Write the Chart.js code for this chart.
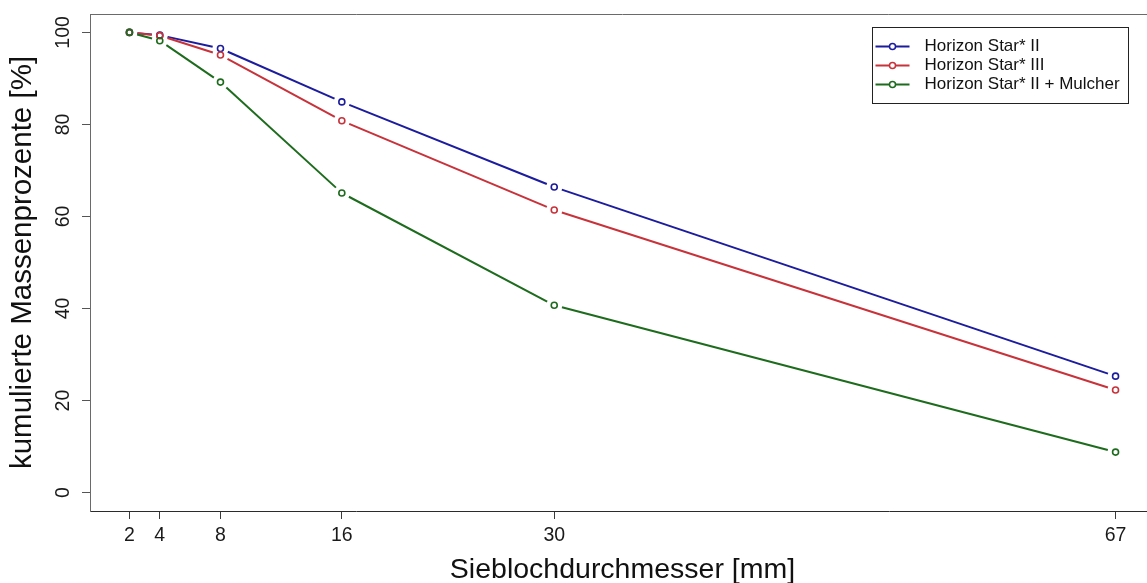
<!DOCTYPE html>
<html>
<head>
<meta charset="utf-8">
<script src="https://cdn.jsdelivr.net/npm/chart.js@4/dist/chart.umd.min.js"></script>
<style>
  html, body { margin: 0; padding: 0; background: #ffffff; overflow: hidden; }
  #wrap { position: relative; width: 1160px; height: 583px; }
</style>
</head>
<body>
<div id="wrap"><canvas id="chart"></canvas></div>
<script>
// Sieve hole diameters [mm] and cumulative mass percentages per machine setup
const sieveSizes = [2, 4, 8, 16, 30, 67];
const seriesNames = ['Horizon Star* II', 'Horizon Star* III', 'Horizon Star* II + Mulcher'];
const starII = [100, 99.4, 96.5, 84.9, 66.4, 25.3];
const starIII = [100, 99.3, 95.1, 80.8, 61.4, 22.3];
const starIIMulcher = [100, 98.2, 89.2, 65.1, 40.7, 8.8];
const seriesColors = ['#1c1c9e', '#c8323a', '#1d6b1d'];
const xTicks = [2, 4, 8, 16, 30, 67];
const yTicks = [0, 20, 40, 60, 80, 100];

const FONT = "'Liberation Sans', Arial, Helvetica, sans-serif";
const GAP = 8; // space left open around each point (line + symbol style)

// connecting lines that stop short of each point symbol
const gapLines = {
  id: 'gapLines',
  beforeDatasetDraw(chart, args) {
    const ds = chart.data.datasets[args.index];
    const pts = args.meta.data;
    const ctx = chart.ctx;
    ctx.save();
    ctx.strokeStyle = ds.borderColor;
    ctx.lineWidth = 2;
    ctx.lineCap = 'butt';
    for (let k = 0; k < pts.length - 1; k++) {
      const a = pts[k], b = pts[k + 1];
      const dx = b.x - a.x, dy = b.y - a.y;
      const d = Math.hypot(dx, dy);
      if (d <= 2 * GAP) continue;
      const ux = dx / d, uy = dy / d;
      ctx.beginPath();
      ctx.moveTo(a.x + ux * GAP, a.y + uy * GAP);
      ctx.lineTo(b.x - ux * GAP, b.y - uy * GAP);
      ctx.stroke();
    }
    ctx.restore();
  }
};

// top edge of the plot frame
const frameTop = {
  id: 'frameTop',
  afterDraw(chart) {
    const {ctx, chartArea} = chart;
    ctx.save();
    ctx.strokeStyle = '#6a6a6a';
    ctx.lineWidth = 1;
    ctx.beginPath();
    ctx.moveTo(chartArea.left, Math.round(chartArea.top) + 0.5);
    ctx.lineTo(chartArea.right, Math.round(chartArea.top) + 0.5);
    ctx.stroke();
    ctx.restore();
  }
};

// boxed legend in the upper right of the plot
const boxLegend = {
  id: 'boxLegend',
  afterDraw(chart) {
    const ctx = chart.ctx;
    const left = 872.5, top = 27.5, width = 256, rowH = 19;
    const n = chart.data.datasets.length;
    const height = (n + 1) * rowH;
    ctx.save();
    ctx.fillStyle = '#ffffff';
    ctx.fillRect(left, top, width, height);
    ctx.strokeStyle = '#222222';
    ctx.lineWidth = 1;
    ctx.strokeRect(left, top, width, height);
    chart.data.datasets.forEach((ds, i) => {
      const y = top + rowH * (i + 1);
      ctx.strokeStyle = ds.borderColor;
      ctx.lineWidth = 2;
      ctx.beginPath();
      ctx.moveTo(left + 3, y);
      ctx.lineTo(left + 37, y);
      ctx.stroke();
      ctx.lineWidth = 1.5;
      ctx.fillStyle = '#ffffff';
      ctx.beginPath();
      ctx.arc(left + 20, y, 3, 0, Math.PI * 2);
      ctx.fill();
      ctx.stroke();
      ctx.fillStyle = '#111111';
      ctx.font = '17px ' + FONT;
      ctx.textBaseline = 'middle';
      ctx.textAlign = 'left';
      ctx.fillText(ds.label, left + 52, y);
    });
    ctx.restore();
  }
};

const seriesValues = [starII, starIII, starIIMulcher];
const datasets = seriesValues.map((vals, i) => ({
  label: seriesNames[i],
  data: sieveSizes.map((x, k) => ({x: x, y: vals[k]})),
  borderColor: seriesColors[i],
  backgroundColor: seriesColors[i],
  showLine: false,
  pointRadius: 3,
  pointHoverRadius: 3,
  pointBorderWidth: 1.6,
  pointBorderColor: seriesColors[i],
  pointBackgroundColor: 'rgba(0,0,0,0)',
  order: seriesValues.length - i
}));

new Chart(document.getElementById('chart'), {
  type: 'scatter',
  data: { datasets },
  plugins: [gapLines, frameTop, boxLegend],
  options: {
    responsive: true,
    maintainAspectRatio: false,
    animation: false,
    events: [],
    layout: { padding: { top: 14, right: 5, left: 0, bottom: 0 } },
    plugins: {
      legend: { display: false },
      tooltip: { enabled: false }
    },
    scales: {
      x: {
        type: 'linear',
        min: -0.6,
        max: 69.6,
        afterBuildTicks: s => { s.ticks = xTicks.map(v => ({ value: v })); },
        afterFit: s => { s.height = 72; },
        grid: { drawOnChartArea: false, drawTicks: true, tickLength: 8, tickColor: '#3a3a3a', tickWidth: 1 },
        border: { display: true, color: '#2b2b2b', width: 1 },
        ticks: { font: { family: FONT, size: 19.5 }, color: '#1a1a1a', padding: 5, minRotation: 0, maxRotation: 0, autoSkip: false },
        title: { display: true, text: 'Sieblochdurchmesser [mm]', color: '#111111',
                 font: { family: FONT, size: 28.5, lineHeight: 0.9 }, padding: { top: 0, bottom: 0 } }
      },
      y: {
        type: 'linear',
        min: -4,
        max: 104,
        afterBuildTicks: s => { s.ticks = yTicks.map(v => ({ value: v })); },
        afterFit: s => { s.width = 90; },
        grid: { drawOnChartArea: false, drawTicks: true, tickLength: 8, tickColor: '#555555', tickWidth: 1 },
        border: { display: true, color: '#6a6a6a', width: 1 },
        ticks: { font: { family: FONT, size: 19.5 }, color: '#1a1a1a', padding: 2, minRotation: 90, maxRotation: 90, crossAlign: 'center' },
        title: { display: true, text: 'kumulierte Massenprozente [%]', color: '#111111',
                 font: { family: FONT, size: 29.5, lineHeight: 1 }, padding: { top: 8, bottom: 0 } }
      }
    }
  }
});
</script>
</body>
</html>
